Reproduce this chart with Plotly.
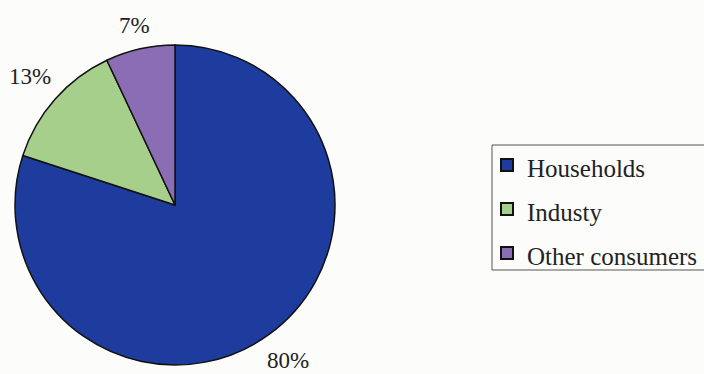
import math
import plotly.graph_objects as go

# Consumption shares by consumer group
labels = ["Households", "Industy", "Other consumers"]
shares = [80, 13, 7]
colors = ["#1e3b9e", "#a6cf8c", "#8b6db6"]

W, H = 704, 374
# pie placement in pixels (centre and radius)
CX, CY, R = 175, 205, 160
LABEL_GAP = 12
LABEL_SIZE = 23

# legend entries: larger legend font sets the row pitch, inner span sets the glyph size
legend_names = [f'<span style="font-size:25px">{name}</span>' for name in labels]

fig = go.Figure(
    go.Pie(
        labels=legend_names,
        values=shares,
        customdata=labels,
        sort=False,
        direction="clockwise",
        rotation=0,
        marker=dict(colors=colors, line=dict(color="#111111", width=1.5)),
        textinfo="none",
        domain=dict(x=[(CX - R) / W, (CX + R) / W], y=[1 - (CY + R) / H, 1 - (CY - R) / H]),
        hovertemplate="%{customdata}: %{percent}<extra></extra>",
    )
)


def text_half_extent(text, size):
    # rough serif metrics: digits 0.5em, percent sign 0.83em, cap band ~0.8em tall
    width = sum(0.83 if ch == "%" else 0.5 for ch in text) * size
    return width / 2, 0.4 * size


# percentage labels outside each slice, kept a fixed gap off the rim along the bisector
total = sum(shares)
start = 0.0
for v in shares:
    mid = (start + v / 2) / total * 2 * math.pi  # clockwise from 12 o'clock
    start += v
    txt = f"{round(v / total * 100)}%"
    sx, sy = math.sin(mid), -math.cos(mid)
    hw, hh = text_half_extent(txt, LABEL_SIZE)
    r = R + LABEL_GAP + hw * abs(sx) + hh * abs(sy)
    px, py = CX + r * sx, CY + r * sy
    fig.add_annotation(
        x=px / W,
        y=1 - py / H,
        xref="paper",
        yref="paper",
        text=txt,
        showarrow=False,
        xanchor="center",
        yanchor="middle",
        font=dict(family="Liberation Serif", size=LABEL_SIZE, color="#222222"),
    )

# legend frame (open on the right, running off the page edge)
fig.add_shape(
    type="rect",
    xref="paper",
    yref="paper",
    x0=492 / W,
    x1=1.02,
    y0=1 - 270 / H,
    y1=1 - 145 / H,
    line=dict(color="#555555", width=1),
    fillcolor="rgba(0,0,0,0)",
    layer="above",
)

fig.update_layout(
    width=W,
    height=H,
    margin=dict(l=0, r=0, t=0, b=0),
    paper_bgcolor="#fcfcfb",
    plot_bgcolor="#fcfcfb",
    font=dict(family="Liberation Serif", size=LABEL_SIZE, color="#222222"),
    showlegend=True,
    legend=dict(
        x=487 / W,
        y=1 - 138 / H,
        xanchor="left",
        yanchor="top",
        bgcolor="rgba(0,0,0,0)",
        borderwidth=0,
        font=dict(family="Liberation Serif", size=31.5, color="#222222"),
        itemsizing="constant",
    ),
)

fig.write_html("out.html")
